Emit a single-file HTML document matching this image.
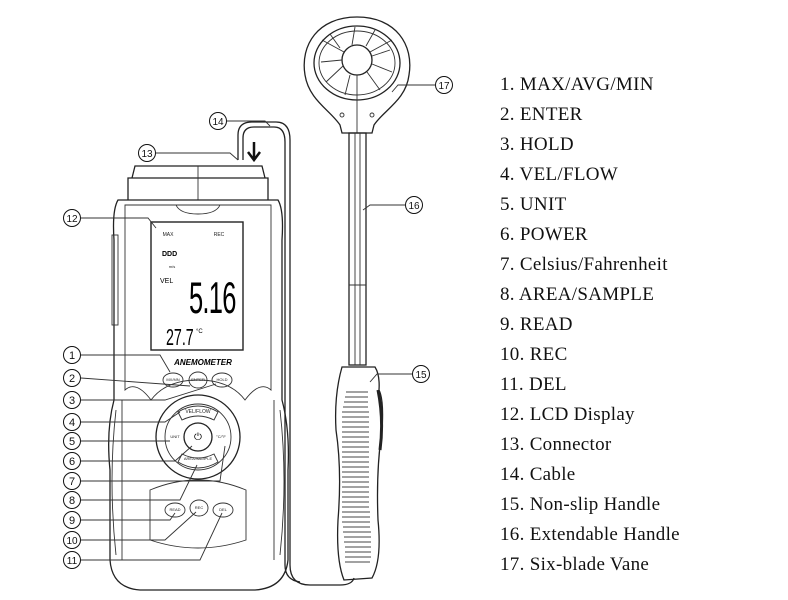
<!DOCTYPE html>
<html><head><meta charset="utf-8"><style>
html,body{margin:0;padding:0;background:#fff;width:788px;height:600px;overflow:hidden}
svg{display:block}
.l{font-family:"Liberation Serif",serif;font-size:19px;letter-spacing:0.3px;fill:#111}
.n{font-family:"Liberation Sans",sans-serif;font-size:11px;fill:#111;text-anchor:middle}
.s{fill:none;stroke:#222;stroke-width:1.3}
.t{fill:none;stroke:#333;stroke-width:0.9}
.b{font-family:"Liberation Sans",sans-serif;font-size:4px;fill:#222;text-anchor:middle}
</style></head><body>
<svg width="788" height="600" viewBox="0 0 788 600" xmlns="http://www.w3.org/2000/svg">
<g class="l">
<text x="500" y="90">1. MAX/AVG/MIN</text>
<text x="500" y="120">2. ENTER</text>
<text x="500" y="150">3. HOLD</text>
<text x="500" y="180">4. VEL/FLOW</text>
<text x="500" y="210">5. UNIT</text>
<text x="500" y="240">6. POWER</text>
<text x="500" y="270">7. Celsius/Fahrenheit</text>
<text x="500" y="300">8. AREA/SAMPLE</text>
<text x="500" y="330">9. READ</text>
<text x="500" y="360">10. REC</text>
<text x="500" y="390">11. DEL</text>
<text x="500" y="420">12. LCD Display</text>
<text x="500" y="450">13. Connector</text>
<text x="500" y="480">14. Cable</text>
<text x="500" y="510">15. Non-slip Handle</text>
<text x="500" y="540">16. Extendable Handle</text>
<text x="500" y="570">17. Six-blade Vane</text>
</g>

<path class="s" d="M238 160 L238 135 Q238 122 252 122 L276 122 Q290 122 290 140 L290 565 Q290 585 310 585 L340 585 Q352 585 354 578"/>
<path class="s" d="M243 160 L243 138 Q243 127 254 127 L274 127 Q285 127 285 142 L285 565 Q285 580 300 582"/>

<path class="s" d="M128 200 L128 178 L268 178 L268 200"/>
<path class="s" d="M132 178 L135 166 L262 166 L265 178"/>
<line class="t" x1="198" y1="166" x2="198" y2="200"/>
<path class="s" d="M118 200 L278 200 Q284 210 282 240 L282 400 Q290 430 288 470 L288 560 Q285 588 255 590 L140 590 Q112 588 110 560 L110 470 Q106 430 114 400 L114 240 Q112 210 118 200 Z"/>
<path class="t" d="M125 205 L271 205 L271 390 Q260 380 245 400 Q230 380 198 380 Q166 380 151 400 Q136 380 125 390 Z"/>
<path class="t" d="M176 205 Q180 214 198 214 Q216 214 220 205"/>
<rect x="112" y="235" width="6" height="90" class="t"/>
<path class="t" d="M116 410 Q108 480 116 555 M280 410 Q288 480 280 555"/>
<path class="t" d="M122 400 L122 560 M274 400 L274 560"/>
<rect x="151" y="222" width="92" height="128" fill="#fff" stroke="#222" stroke-width="1.4"/>
<text x="168" y="236" class="b" style="font-size:5px">MAX</text>
<text x="219" y="236" class="b" style="font-size:5px">REC</text>
<text x="162" y="256" style="font:bold 7px 'Liberation Sans',sans-serif">DDD</text>
<text x="172" y="268" class="b">m/s</text>
<text x="160" y="283" style="font:7px 'Liberation Sans',sans-serif">VEL</text>
<text x="0" y="0" style="font:34px 'Liberation Sans',sans-serif;letter-spacing:-1px" transform="translate(189,313) scale(0.75,1.3)">5.16</text>
<text x="0" y="0" style="font:19px 'Liberation Sans',sans-serif" transform="translate(166,345) scale(0.75,1.2)">27.7</text>
<text x="196" y="333" style="font:6px 'Liberation Sans',sans-serif">°C</text>
<text x="203" y="365" style="font:italic bold 8px 'Liberation Sans',sans-serif;text-anchor:middle">ANEMOMETER</text>
<ellipse cx="173" cy="380" rx="10" ry="7" class="t"/><text x="173" y="381" class="b">MX/MN</text>
<ellipse cx="198" cy="380" rx="9" ry="8" class="t"/><text x="198" y="381" class="b">ENTER</text>
<ellipse cx="222" cy="380" rx="10" ry="7" class="t"/><text x="222" y="381" class="b">HOLD</text>
<circle cx="198" cy="437" r="42" class="s"/>
<circle cx="198" cy="437" r="33" class="t"/>
<circle cx="198" cy="437" r="14" class="s"/>
<text x="198" y="440" style="font:10px 'DejaVu Sans',sans-serif;text-anchor:middle">⏻</text>
<path class="t" d="M178 412 Q198 400 218 412 L214 420 Q198 412 182 420 Z"/><text x="198" y="413" class="b" style="font-size:5px">VEL/FLOW</text>
<path class="t" d="M178 462 Q198 474 218 462 L214 454 Q198 462 182 454 Z"/><text x="198" y="460" class="b">AREA/SAMPLE</text>
<text x="175" y="438" class="b">UNIT</text><text x="221" y="438" class="b">°C/°F</text>
<path class="t" d="M150 490 Q198 470 246 490 L246 540 Q198 556 150 540 Z"/>
<ellipse cx="175" cy="510" rx="10" ry="7" class="t"/><text x="175" y="511" class="b">READ</text>
<ellipse cx="199" cy="508" rx="9" ry="8" class="t"/><text x="199" y="509" class="b">REC</text>
<ellipse cx="223" cy="510" rx="10" ry="7" class="t"/><text x="223" y="511" class="b">DEL</text>
<path d="M254 142 L254 158 M248 152 L254 160 L260 152" stroke="#111" stroke-width="2.5" fill="none"/>

<path class="s" d="M357 17 C318 17 300 45 305 75 C309 100 330 110 340 125 L342 133 L372 133 L374 125 C384 110 406 100 409 75 C414 45 396 17 357 17 Z"/>
<ellipse cx="357" cy="63" rx="43" ry="37" class="s"/>
<ellipse cx="357" cy="63" rx="38" ry="32" class="t"/>
<circle cx="357" cy="60" r="15" class="s"/>
<g class="t">
<line x1="357" y1="75" x2="357" y2="133"/>
<line x1="344" y1="52" x2="322" y2="40"/><line x1="370" y1="52" x2="392" y2="40"/>
<line x1="330" y1="34" x2="340" y2="48"/><line x1="355" y1="27" x2="352" y2="45"/><line x1="375" y1="30" x2="366" y2="46"/>
<line x1="390" y1="50" x2="372" y2="56"/><line x1="392" y1="72" x2="372" y2="64"/><line x1="380" y1="90" x2="367" y2="72"/>
<line x1="345" y1="95" x2="350" y2="75"/><line x1="326" y1="82" x2="343" y2="66"/><line x1="321" y1="62" x2="342" y2="60"/>
</g>
<circle cx="342" cy="115" r="2" class="t"/><circle cx="372" cy="115" r="2" class="t"/>
<rect x="349" y="133" width="17" height="232" class="s"/>
<line class="t" x1="355" y1="133" x2="355" y2="365"/><line class="t" x1="360" y1="133" x2="360" y2="365"/>
<line class="t" x1="349" y1="285" x2="366" y2="285"/>
<path class="s" d="M342 367 L375 367 Q380 375 379 390 Q384 400 382 430 Q376 470 378 520 Q382 560 372 578 L344 580 Q336 560 338 520 Q342 470 336 430 Q334 395 342 367 Z"/>
<g stroke="#444" stroke-width="0.9">
<line x1="346" y1="392" x2="368" y2="392"/><line x1="345" y1="397" x2="368" y2="397"/><line x1="344" y1="402" x2="368" y2="402"/><line x1="343" y1="407" x2="368" y2="407"/><line x1="342" y1="412" x2="369" y2="412"/><line x1="342" y1="417" x2="369" y2="417"/><line x1="342" y1="422" x2="369" y2="422"/><line x1="342" y1="427" x2="369" y2="427"/><line x1="342" y1="432" x2="369" y2="432"/><line x1="342" y1="437" x2="369" y2="437"/><line x1="342" y1="442" x2="369" y2="442"/><line x1="342" y1="447" x2="369" y2="447"/><line x1="342" y1="452" x2="369" y2="452"/><line x1="342" y1="457" x2="369" y2="457"/><line x1="342" y1="462" x2="369" y2="462"/><line x1="342" y1="467" x2="369" y2="467"/><line x1="342" y1="472" x2="369" y2="472"/><line x1="342" y1="477" x2="369" y2="477"/><line x1="342" y1="482" x2="369" y2="482"/><line x1="342" y1="487" x2="369" y2="487"/><line x1="342" y1="492" x2="369" y2="492"/><line x1="342" y1="497" x2="369" y2="497"/><line x1="342" y1="502" x2="369" y2="502"/><line x1="342" y1="507" x2="369" y2="507"/><line x1="342" y1="512" x2="370" y2="512"/><line x1="342" y1="517" x2="370" y2="517"/><line x1="342" y1="522" x2="370" y2="522"/><line x1="343" y1="527" x2="370" y2="527"/><line x1="343" y1="532" x2="371" y2="532"/><line x1="344" y1="537" x2="371" y2="537"/><line x1="344" y1="542" x2="371" y2="542"/><line x1="345" y1="547" x2="371" y2="547"/><line x1="345" y1="552" x2="371" y2="552"/><line x1="345" y1="557" x2="371" y2="557"/><line x1="345" y1="562" x2="370" y2="562"/>
</g>
<path d="M378 390 Q384 420 380 450" stroke="#222" stroke-width="3" fill="none"/>

<g class="t" stroke="#222">
<path d="M81 355 L160 355 L170 372"/><path d="M81 378 L190 386"/><path d="M81 400 L165 400 L216 384"/>
<path d="M81 422 L165 422 L180 412"/><path d="M81 441 L170 441"/><path d="M81 461 L175 461 L192 446"/>
<path d="M81 481 L220 481 L225 446"/><path d="M81 500 L180 500 L197 465"/><path d="M81 520 L170 520 L175 513"/>
<path d="M81 540 L165 540 L196 512"/><path d="M81 560 L200 560 L222 513"/>
<path d="M81 218 L148 218 L156 228"/><path d="M156 153 L230 153 L238 160"/><path d="M227 121 L265 121 L270 126"/>
<path d="M412 374 L377 374 L370 382"/><path d="M405 205 L370 205 L363 210"/><path d="M435 85 L398 85 L392 92"/>
</g>
<g fill="#fff" stroke="#111" stroke-width="1">
<circle cx="72" cy="355" r="8.5"/><circle cx="72" cy="378" r="8.5"/><circle cx="72" cy="400" r="8.5"/><circle cx="72" cy="422" r="8.5"/><circle cx="72" cy="441" r="8.5"/><circle cx="72" cy="461" r="8.5"/><circle cx="72" cy="481" r="8.5"/><circle cx="72" cy="500" r="8.5"/><circle cx="72" cy="520" r="8.5"/><circle cx="72" cy="540" r="8.5"/><circle cx="72" cy="560" r="8.5"/>
<circle cx="72" cy="218" r="8.5"/><circle cx="147" cy="153" r="8.5"/><circle cx="218" cy="121" r="8.5"/><circle cx="421" cy="374" r="8.5"/><circle cx="414" cy="205" r="8.5"/><circle cx="444" cy="85" r="8.5"/>
</g>
<g class="n">
<text x="72" y="359">1</text><text x="72" y="382">2</text><text x="72" y="404">3</text><text x="72" y="426">4</text><text x="72" y="445">5</text><text x="72" y="465">6</text><text x="72" y="485">7</text><text x="72" y="504">8</text><text x="72" y="524">9</text>
<text x="72" y="544" style="font-size:10px">10</text><text x="72" y="564" style="font-size:10px">11</text><text x="72" y="222" style="font-size:10px">12</text><text x="147" y="157" style="font-size:10px">13</text><text x="218" y="125" style="font-size:10px">14</text><text x="421" y="378" style="font-size:10px">15</text><text x="414" y="209" style="font-size:10px">16</text><text x="444" y="89" style="font-size:10px">17</text>
</g>
</svg>
</body></html>
